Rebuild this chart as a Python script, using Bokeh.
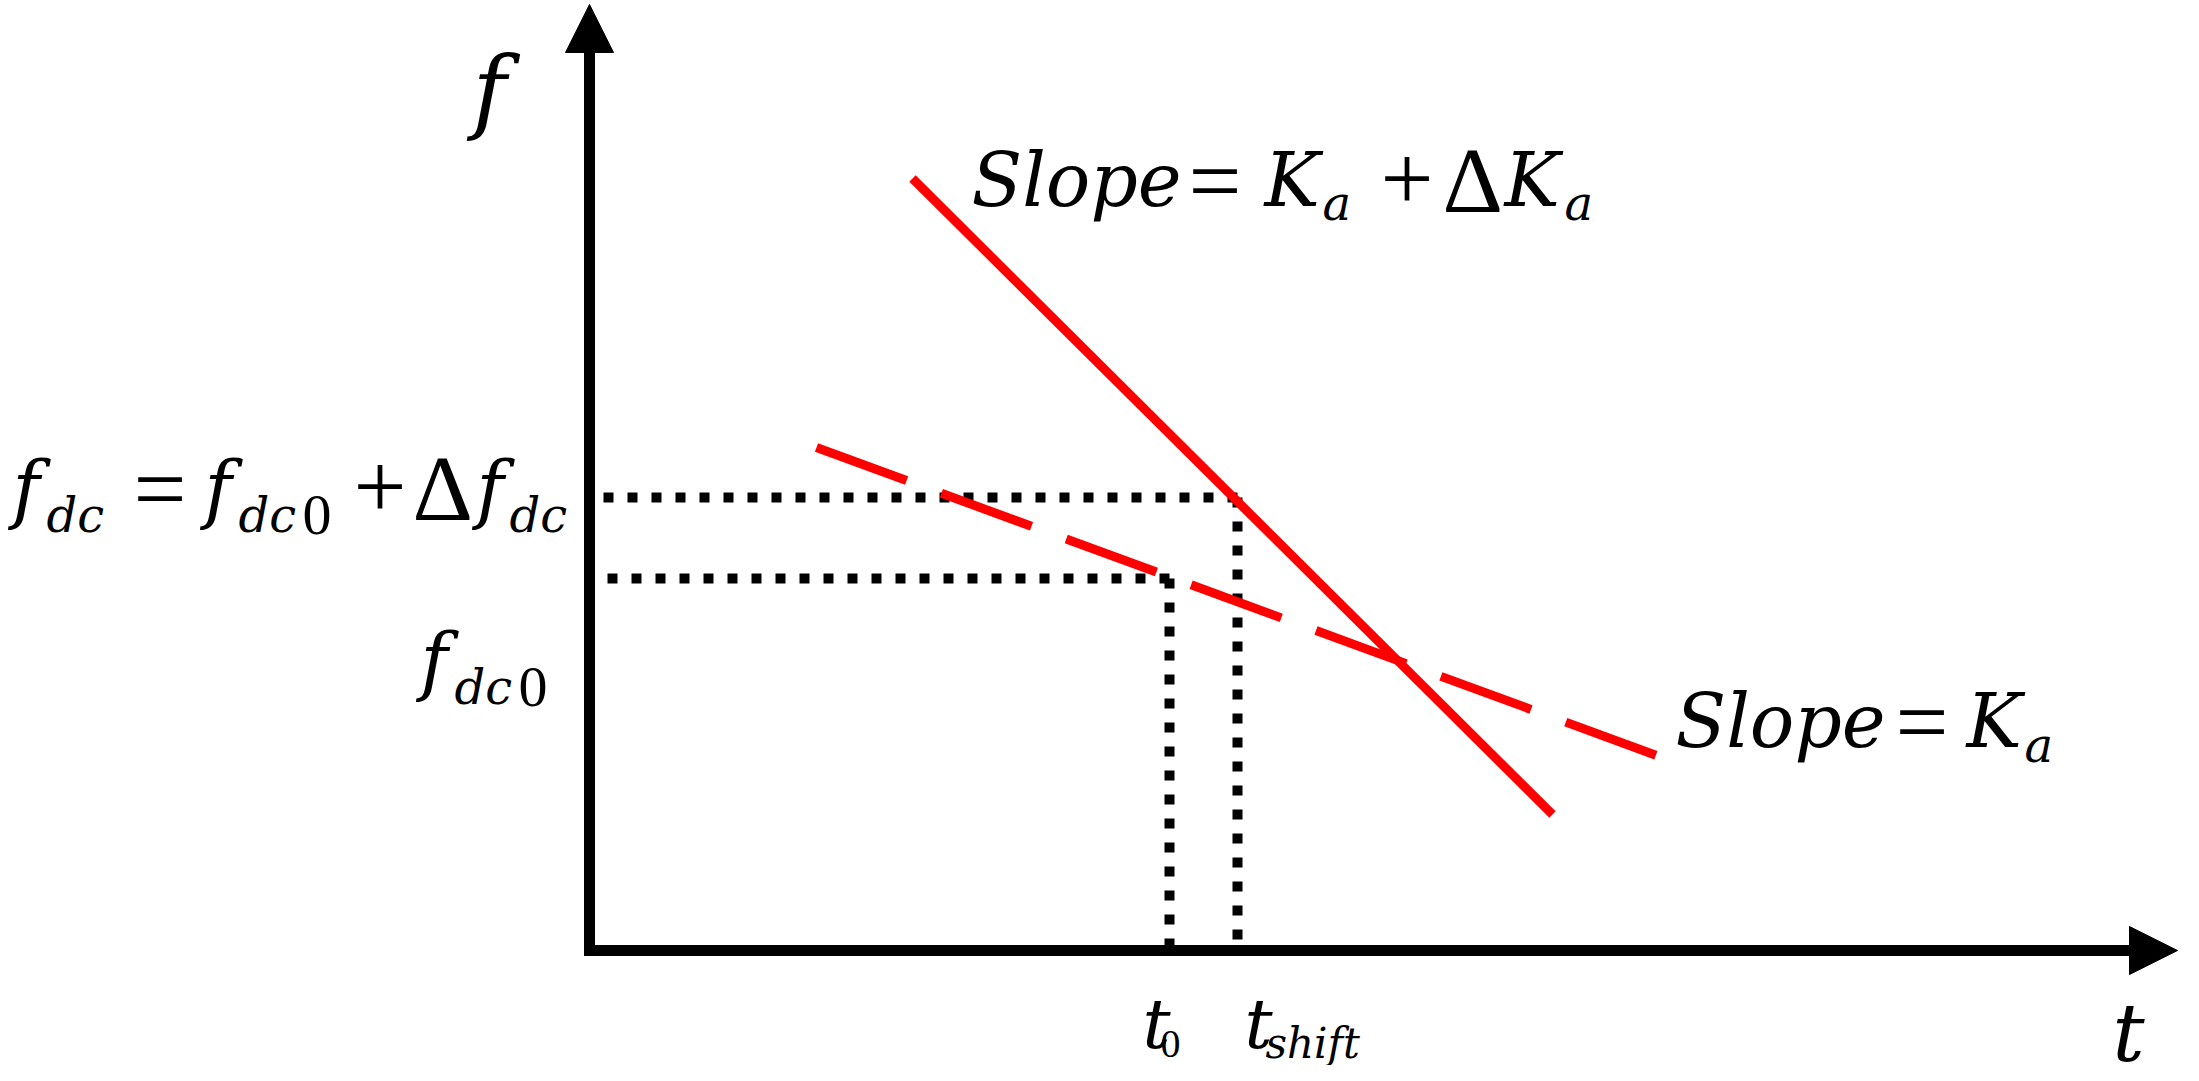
from bokeh.plotting import figure
from bokeh.models import Range1d, ColumnDataSource, Arrow, NormalHead
from bokeh.core.properties import value
from bokeh.embed import file_html
from bokeh.resources import INLINE

# ---------------- data (diagram units: t to the right, f upward) ----------------
t_axis_max = 15.88
f_axis_max = 9.46
t_0 = 5.80
t_shift = 6.48
f_dc0 = 3.72
f_dc = 4.53
solid_t = [3.23, 9.63]          # Slope = K_a + dK_a
solid_f = [7.72, 1.36]
dashed_t = [2.27, 10.70]        # Slope = K_a
dashed_f = [5.03, 1.94]

# text labels
axis_f_label = "f"
axis_t_label = "t"
fdc_eq_parts = ["f", "dc", "=", "f", "dc", "0", "+", "\u0394", "f", "dc"]
fdc0_parts = ["f", "dc", "0"]
slope1_parts = ["Slope", "=", "K", "a", "+", "\u0394", "K", "a"]
slope2_parts = ["Slope", "=", "K", "a"]
t0_parts = ["t", "0"]
tshift_parts = ["t", "shift"]

# ---------------- layout helpers ----------------
X0, Y0, SC = 597.0, 958.0, 100.0   # origin pixel and pixels per unit


def ux(px):
    return (px - X0) / SC


def uy(py):
    return (Y0 - py) / SC


W, H = 2183, 1065
p = figure(width=W, height=H, output_backend="svg", toolbar_location=None,
           x_range=Range1d(ux(8), ux(8 + W)), y_range=Range1d(uy(8 + H), uy(8)),
           min_border=0)
p.axis.visible = False
p.grid.visible = False
p.outline_line_color = None
p.background_fill_color = "white"
p.border_fill_color = "white"

# ---------------- axes ----------------
head = 0.30
p.line([0, 0, t_axis_max - head], [f_axis_max - head, 0, 0], line_width=11,
       line_color="black", line_join="miter", line_cap="butt")
for xe, ye in [(0, f_axis_max), (t_axis_max, 0)]:
    p.add_layout(Arrow(end=NormalHead(size=48, fill_color="black", line_color="black", line_width=1),
                       x_start=0, y_start=0, x_end=xe, y_end=ye, line_alpha=0, line_width=0))

# ---------------- dotted guides ----------------
dot = dict(line_color="black", line_width=10, line_dash="10 14", line_cap="butt")
p.line([t_shift, 0.11], [f_dc, f_dc], **dot)
p.line([t_0, 0.11], [f_dc0, f_dc0], **dot)
p.line([t_0, t_0], [f_dc0, 0], **dot)
p.line([t_shift, t_shift], [f_dc, 0], **dot)

# ---------------- red lines ----------------
p.line(solid_t, solid_f, line_color="#FF0000", line_width=9)
p.line(dashed_t, dashed_f, line_color="#FF0000", line_width=9, line_dash="96 37", line_cap="butt")

# ---------------- text ----------------
IT_FONT = "DejaVu Serif"       # italic letters
UP_FONT = "Liberation Serif"   # upright operators and digits
MI, SI = "74px", "48px"        # italic main / subscript sizes
MU, SU = "94px", "58px"        # upright main / subscript sizes
IT, UP = "italic", "normal"
groups = {}


def put(parts, xs, ys, sizes, styles):
    for t, x, y, s, st in zip(parts, xs, ys, sizes, styles):
        font = IT_FONT if st == IT else UP_FONT
        g = groups.setdefault((s, st, font), dict(text=[], x=[], y=[]))
        g["text"].append(t)
        g["x"].append(ux(x))
        g["y"].append(uy(y))


put(fdc_eq_parts,
    [20, 54, 141, 212, 246, 310, 361, 420, 484, 517],
    [495, 522, 495, 495, 522, 522, 495, 495, 495, 522],
    [MI, SI, MU, MI, SI, SU, MU, MU, MI, SI],
    [IT, IT, UP, IT, IT, UP, UP, UP, IT, IT])
put(fdc0_parts, [428, 462, 526], [667, 694, 694], [MI, SI, SU], [IT, IT, UP])
put(slope1_parts,
    [979, 1196, 1272, 1330, 1388, 1450, 1512, 1572],
    [187, 187, 187, 210, 187, 187, 187, 210],
    [MI, MU, MI, SI, MU, MU, MI, SI],
    [IT, UP, IT, IT, UP, UP, IT, IT])
put(slope2_parts, [1683, 1903, 1974, 2032], [728, 728, 728, 752], [MI, MU, MI, SI], [IT, UP, IT, IT])
put(t0_parts, [1150, 1168], [1031, 1051], ["70px", "40px"], [IT, UP])
put(tshift_parts, [1252, 1273], [1031, 1051], ["70px", "42px"], [IT, IT])
put([axis_f_label], [480], [98], ["92px"], [IT])
put([axis_t_label], [2120], [1041], ["80px"], [IT])

for (size, style, font), g in groups.items():
    p.text(x="x", y="y", text="text", source=ColumnDataSource(g), text_font=value(font),
           text_font_size=size, text_font_style=style, text_color="black",
           text_baseline="alphabetic", text_align="left")

open("out.html", "w").write(file_html(p, INLINE))
